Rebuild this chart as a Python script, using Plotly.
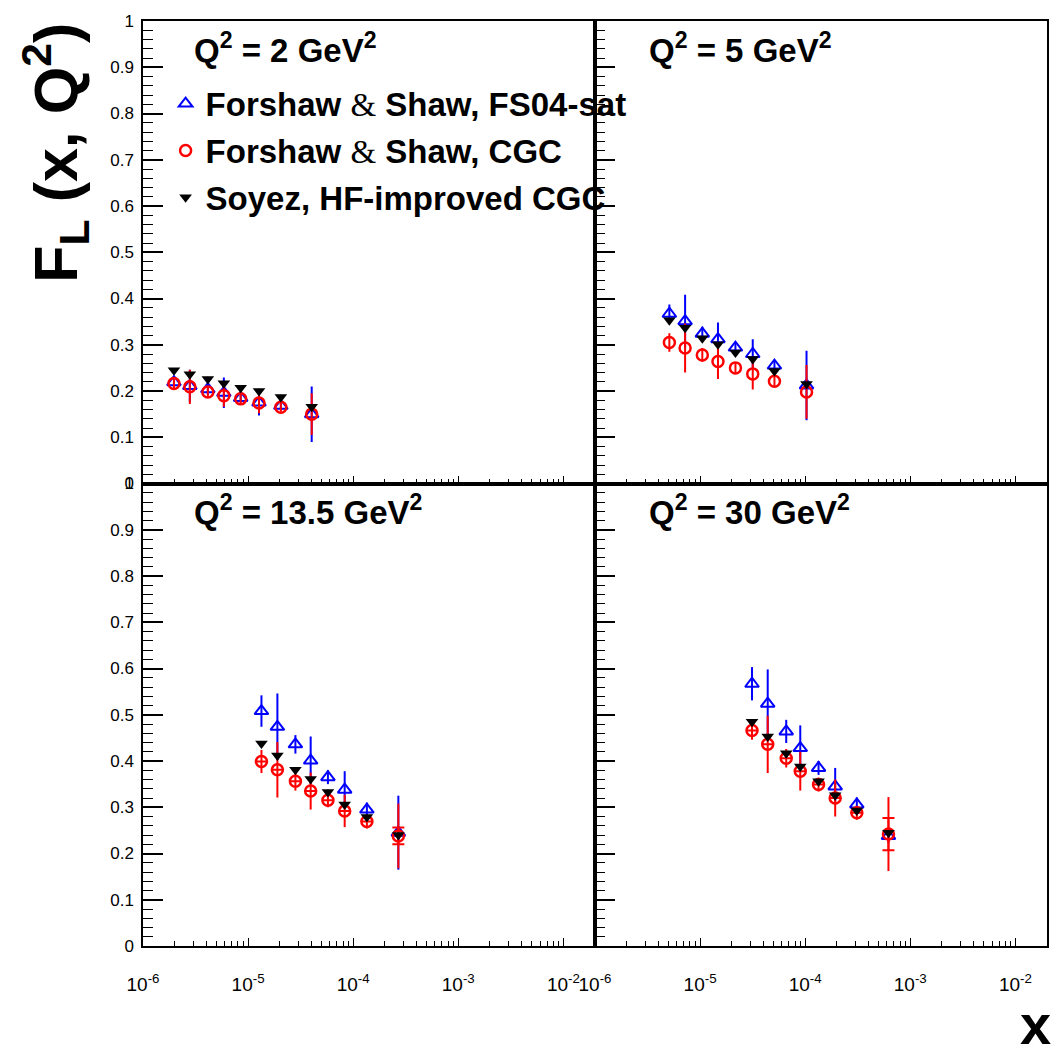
import plotly.graph_objects as go
from plotly.subplots import make_subplots

# ---------------- data ----------------
q2_labels = ["2", "5", "13.5", "30"]

x_q2_2 = [1.97e-6, 2.79e-6, 4.14e-6, 5.88e-6, 8.5e-6, 1.27e-5, 2.05e-5, 4.03e-5]
sat_q2_2 = [0.219, 0.211, 0.204, 0.196, 0.185, 0.175, 0.168, 0.150]
sat_err_q2_2 = [0.012, 0.035, 0.012, 0.033, 0.010, 0.028, 0.010, 0.060]
cgc_q2_2 = [0.216, 0.209, 0.198, 0.190, 0.183, 0.174, 0.165, 0.150]
cgc_err_q2_2 = [0.014, 0.037, 0.012, 0.024, 0.010, 0.022, 0.010, 0.045]
soy_q2_2 = [0.245, 0.236, 0.226, 0.217, 0.207, 0.200, 0.187, 0.166]

x_q2_5 = [5.1e-6, 7.2e-6, 1.05e-5, 1.48e-5, 2.17e-5, 3.17e-5, 5.1e-5, 1.03e-4]
sat_q2_5 = [0.367, 0.351, 0.324, 0.312, 0.294, 0.280, 0.255, 0.212]
sat_err_q2_5 = [0.020, 0.057, 0.015, 0.036, 0.012, 0.032, 0.012, 0.075]
cgc_q2_5 = [0.305, 0.293, 0.278, 0.264, 0.250, 0.237, 0.221, 0.198]
cgc_err_q2_5 = [0.020, 0.053, 0.015, 0.038, 0.012, 0.034, 0.012, 0.058]
soy_q2_5 = [0.353, 0.337, 0.314, 0.301, 0.283, 0.269, 0.243, 0.215]

x_q2_13 = [1.34e-5, 1.9e-5, 2.82e-5, 3.94e-5, 5.75e-5, 8.3e-5, 1.35e-4, 2.69e-4]
sat_q2_13 = [0.508, 0.474, 0.436, 0.401, 0.365, 0.338, 0.295, 0.245]
sat_err_q2_13 = [0.034, 0.072, 0.020, 0.052, 0.015, 0.040, 0.015, 0.080]
cgc_q2_13 = [0.399, 0.381, 0.356, 0.335, 0.315, 0.292, 0.269, 0.238]
cgc_err_q2_13 = [0.025, 0.060, 0.020, 0.040, 0.015, 0.035, 0.015, 0.070]
soy_q2_13 = [0.438, 0.412, 0.381, 0.361, 0.333, 0.306, 0.279, 0.240]

x_q2_30 = [3.12e-5, 4.4e-5, 6.6e-5, 8.98e-5, 1.34e-4, 1.93e-4, 3.1e-4, 6.2e-4]
sat_q2_30 = [0.567, 0.524, 0.464, 0.428, 0.385, 0.345, 0.306, 0.238]
sat_err_q2_30 = [0.036, 0.074, 0.025, 0.049, 0.015, 0.040, 0.015, 0.015]
cgc_q2_30 = [0.466, 0.436, 0.406, 0.378, 0.349, 0.320, 0.288, 0.242]
cgc_err_q2_30 = [0.020, 0.062, 0.020, 0.042, 0.015, 0.040, 0.015, 0.080]
soy_q2_30 = [0.485, 0.453, 0.417, 0.388, 0.356, 0.326, 0.293, 0.245]

# small errors on the Soyez points
soy_err = [0.005, 0.005, 0.005, 0.005, 0.005, 0.005, 0.005, 0.005]

# inner (capped) red error on the last point of the lower panels
cgc_inner_err_q2_13 = [None, None, None, None, None, None, None, 0.018]
cgc_inner_err_q2_30 = [None, None, None, None, None, None, None, 0.035]

y_tick_vals = [0, 0.1, 0.2, 0.3, 0.4, 0.5, 0.6, 0.7, 0.8, 0.9, 1.0]
y_tick_text = ["0", "0.1", "0.2", "0.3", "0.4", "0.5", "0.6", "0.7", "0.8", "0.9", "1"]
x_tick_vals = [1e-6, 1e-5, 1e-4, 1e-3, 1e-2]
x_tick_text = ["10<sup>-6</sup>", "10<sup>-5</sup>", "10<sup>-4</sup>", "10<sup>-3</sup>", "10<sup>-2</sup>"]

panels = [
    (1, 1, x_q2_2, sat_q2_2, sat_err_q2_2, cgc_q2_2, cgc_err_q2_2, soy_q2_2, None),
    (1, 2, x_q2_5, sat_q2_5, sat_err_q2_5, cgc_q2_5, cgc_err_q2_5, soy_q2_5, None),
    (2, 1, x_q2_13, sat_q2_13, sat_err_q2_13, cgc_q2_13, cgc_err_q2_13, soy_q2_13, cgc_inner_err_q2_13),
    (2, 2, x_q2_30, sat_q2_30, sat_err_q2_30, cgc_q2_30, cgc_err_q2_30, soy_q2_30, cgc_inner_err_q2_30),
]

BLUE = "#0000ff"
RED = "#ff0000"
FONT = "Liberation Sans"
amp = '<span style="font-family:\'Liberation Serif\';font-weight:normal">&amp;</span>'
names = ["Forshaw " + amp + " Shaw, FS04-sat", "Forshaw " + amp + " Shaw, CGC", "Soyez, HF-improved CGC"]

fig = make_subplots(rows=2, cols=2, horizontal_spacing=0, vertical_spacing=0)

for i, (r, c, xs, sat, sate, cgc, cgce, soy, inner) in enumerate(panels):
    first = i == 0
    fig.add_trace(go.Scatter(
        x=xs, y=sat, mode="markers", name=names[0], legendgroup="a", showlegend=first,
        marker=dict(symbol="triangle-up-open", size=12, color=BLUE, line=dict(width=2, color=BLUE)),
        error_y=dict(type="data", array=sate, color=BLUE, thickness=2, width=0),
    ), row=r, col=c)
    fig.add_trace(go.Scatter(
        x=xs, y=cgc, mode="markers", name=names[1], legendgroup="b", showlegend=first,
        marker=dict(symbol="circle-open", size=11, color=RED, line=dict(width=2.5, color=RED)),
        error_y=dict(type="data", array=cgce, color=RED, thickness=2, width=0),
    ), row=r, col=c)
    if inner is not None:
        fig.add_trace(go.Scatter(
            x=xs, y=cgc, mode="markers", showlegend=False, hoverinfo="skip",
            marker=dict(size=1, color="rgba(0,0,0,0)"),
            error_y=dict(type="data", array=inner, color=RED, thickness=2, width=6),
        ), row=r, col=c)
    fig.add_trace(go.Scatter(
        x=xs, y=soy, mode="markers", name=names[2], legendgroup="c", showlegend=first,
        marker=dict(symbol="triangle-down", size=11, color="black", line=dict(width=0)),
        error_y=dict(type="data", array=soy_err, color="black", thickness=2, width=0),
    ), row=r, col=c)

for r in (1, 2):
    for c in (1, 2):
        fig.update_xaxes(
            type="log", range=[-6, -1.69897], tickmode="array", tickvals=x_tick_vals, ticktext=x_tick_text,
            showticklabels=(r == 2), ticks="inside", ticklen=8, tickwidth=1.2, tickcolor="black",
            minor=dict(ticks="inside", ticklen=5, dtick="D1", tickwidth=1, tickcolor="black", showgrid=False),
            showline=True, linecolor="black", linewidth=1.5, mirror=True, showgrid=False, zeroline=False,
            ticklabelstandoff=20, tickfont=dict(family=FONT, size=19, color="black"),
            row=r, col=c)
        fig.update_yaxes(
            range=[0, 1], tickmode="array", tickvals=y_tick_vals, ticktext=y_tick_text,
            showticklabels=(c == 1), ticks="inside", ticklen=20, tickwidth=1.5, tickcolor="black",
            minor=dict(ticks="inside", ticklen=10, dtick=0.02, tickwidth=1, tickcolor="black", showgrid=False),
            showline=True, linecolor="black", linewidth=1.5, mirror=True, showgrid=False, zeroline=False,
            ticklabelstandoff=4, tickfont=dict(family=FONT, size=17, color="black"),
            row=r, col=c)

title_pos = [(0.054, 0.971), (0.5575, 0.971), (0.054, 0.471), (0.5575, 0.471)]
for (tx, ty), lab in zip(title_pos, q2_labels):
    fig.add_annotation(
        x=tx, y=ty, xref="paper", yref="paper", xanchor="left", yanchor="middle", showarrow=False,
        text="<b>Q<sup>2</sup> = " + lab + " GeV<sup>2</sup></b>",
        font=dict(family=FONT, size=33, color="black"))

fig.add_annotation(
    x=-0.097, y=0.858, xref="paper", yref="paper", xanchor="center", yanchor="middle", showarrow=False,
    textangle=-90, text="<b>F<sub>L</sub> (x, Q<sup>2</sup>)</b>",
    font=dict(family=FONT, size=61, color="black"))
fig.add_annotation(
    x=0.987, y=-0.1205, xref="paper", yref="paper", xanchor="center", yanchor="bottom", showarrow=False,
    text="<b>x</b>", font=dict(family=FONT, size=56, color="black"), borderpad=0)

fig.update_layout(
    width=1063, height=1059,
    margin=dict(l=143, r=16, t=14, b=113),
    paper_bgcolor="white", plot_bgcolor="white",
    showlegend=True,
    legend=dict(x=0.025, y=0.941, xanchor="left", yanchor="top", bgcolor="rgba(0,0,0,0)",
                font=dict(family=FONT, size=33, color="black", weight="bold"),
                tracegroupgap=1, itemwidth=30),
)

fig.write_html("out.html", config={"displayModeBar": False},
               post_script="document.body.style.margin='0';document.body.style.overflow='hidden';")
